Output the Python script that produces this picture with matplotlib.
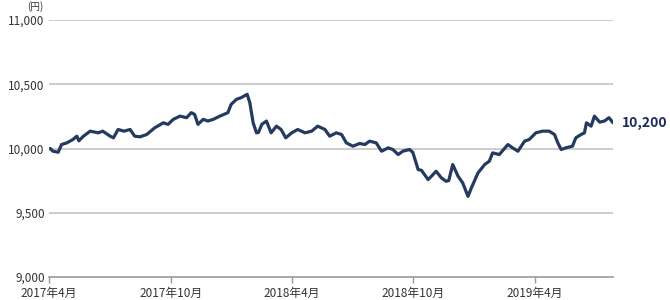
import pandas as pd
import matplotlib
matplotlib.use("Agg")
import matplotlib.pyplot as plt

plt.rcParams['font.family'] = ['Noto Sans CJK JP', 'DejaVu Sans']

# price series (yen)
dates = [
    "2017-04-03", "2017-04-07", "2017-04-15", "2017-04-20", "2017-04-28",
    "2017-05-07", "2017-05-13", "2017-05-16", "2017-05-23", "2017-06-02",
    "2017-06-14", "2017-06-21", "2017-07-02", "2017-07-07", "2017-07-14",
    "2017-07-23", "2017-08-01", "2017-08-08", "2017-08-16", "2017-08-26",
    "2017-09-07", "2017-09-20", "2017-09-27", "2017-10-05", "2017-10-15",
    "2017-10-25", "2017-11-01", "2017-11-06", "2017-11-11", "2017-11-19",
    "2017-11-26", "2017-12-04", "2017-12-14", "2017-12-26", "2017-12-31",
    "2018-01-08", "2018-01-15", "2018-01-24", "2018-01-28", "2018-02-02",
    "2018-02-07", "2018-02-10", "2018-02-15", "2018-02-22", "2018-03-01",
    "2018-03-09", "2018-03-16", "2018-03-23", "2018-04-01", "2018-04-10",
    "2018-04-21", "2018-05-01", "2018-05-10", "2018-05-21", "2018-05-28",
    "2018-06-07", "2018-06-15", "2018-06-22", "2018-07-02", "2018-07-12",
    "2018-07-20", "2018-07-27", "2018-08-06", "2018-08-14", "2018-08-24",
    "2018-08-31", "2018-09-08", "2018-09-15", "2018-09-25", "2018-09-30",
    "2018-10-08", "2018-10-13", "2018-10-23", "2018-10-28", "2018-11-04",
    "2018-11-12", "2018-11-19", "2018-11-23", "2018-11-29", "2018-12-07",
    "2018-12-14", "2018-12-22", "2018-12-27", "2019-01-06", "2019-01-16",
    "2019-01-23", "2019-01-28", "2019-02-07", "2019-02-20", "2019-02-27",
    "2019-03-07", "2019-03-17", "2019-03-24", "2019-04-03", "2019-04-13",
    "2019-04-23", "2019-05-01", "2019-05-06", "2019-05-11", "2019-05-18",
    "2019-05-28", "2019-06-02", "2019-06-10", "2019-06-15", "2019-06-18",
    "2019-06-25", "2019-06-30", "2019-07-08", "2019-07-15", "2019-07-22",
    "2019-07-28",
]
values = [
    10000, 9979, 9971, 10031, 10044,
    10070, 10096, 10060, 10096, 10135,
    10122, 10135, 10096, 10083, 10148,
    10135, 10148, 10096, 10091, 10109,
    10161, 10200, 10188, 10227, 10252,
    10240, 10279, 10266, 10188, 10227,
    10214, 10227, 10252, 10279, 10344,
    10383, 10396, 10422, 10357, 10200,
    10122, 10125, 10188, 10214, 10122,
    10174, 10148, 10083, 10122, 10148,
    10122, 10135, 10174, 10148, 10096,
    10122, 10109, 10044, 10018, 10039,
    10031, 10057, 10044, 9979, 10005,
    9992, 9953, 9979, 9992, 9970,
    9836, 9830, 9758, 9784, 9823,
    9771, 9745, 9750, 9875, 9784,
    9732, 9627, 9693, 9810, 9875,
    9901, 9966, 9953, 10031, 10005,
    9979, 10057, 10070, 10122, 10135,
    10135, 10109, 10044, 9992, 10005,
    10018, 10083, 10109, 10122, 10200,
    10174, 10252, 10205, 10214, 10240,
    10200,
]
last_label = "10,200"

y_ticks = [9000, 9500, 10000, 10500, 11000]
x_ticks = ["2017-04-01", "2017-10-01", "2018-04-01", "2018-10-01", "2019-04-01"]
x_labels = ["2017年4月", "2017年10月", "2018年4月", "2018年10月", "2019年4月"]

df = pd.DataFrame({"date": pd.to_datetime(dates), "value": values})

fig = plt.figure(figsize=(6.7, 3.0), dpi=100)
ax = fig.add_axes([0.073, 0.077, 0.842, 0.856])

for yv in y_ticks[1:]:
    ax.axhline(yv, color="#cccccc", lw=1.4, zorder=1)

ax.plot(df["date"], df["value"], color="#243b5f", lw=2.3, zorder=3,
        solid_joinstyle="round", solid_capstyle="round")

ax.set_xlim(pd.Timestamp("2017-04-01"), pd.Timestamp("2019-07-28"))
ax.set_ylim(9000, 11000)
ax.set_yticks(y_ticks)
ax.set_yticklabels([f"{v:,}" for v in y_ticks], fontsize=8.5, color="#333333")
ax.set_xticks(pd.to_datetime(x_ticks))
ax.set_xticklabels(x_labels, fontsize=8.5, color="#333333")

for s in ["top", "right", "left"]:
    ax.spines[s].set_visible(False)
ax.spines["bottom"].set_color("#999999")
ax.spines["bottom"].set_linewidth(1.2)
ax.tick_params(axis="y", length=0, pad=3)
ax.tick_params(axis="x", length=4, width=1, color="#999999", pad=3)

# unit label above the y axis
fig.text(35 / 670, 1 - 7 / 300, "(円)", fontsize=7, color="#333333",
         ha="center", va="center")

ax.annotate(last_label, xy=(df["date"].iloc[-1], df["value"].iloc[-1]),
            xytext=(6, 0), textcoords="offset points", fontsize=10,
            fontweight="bold", color="#1b2a5a", va="center", ha="left",
            annotation_clip=False)

fig.savefig("out.png", dpi=100)
